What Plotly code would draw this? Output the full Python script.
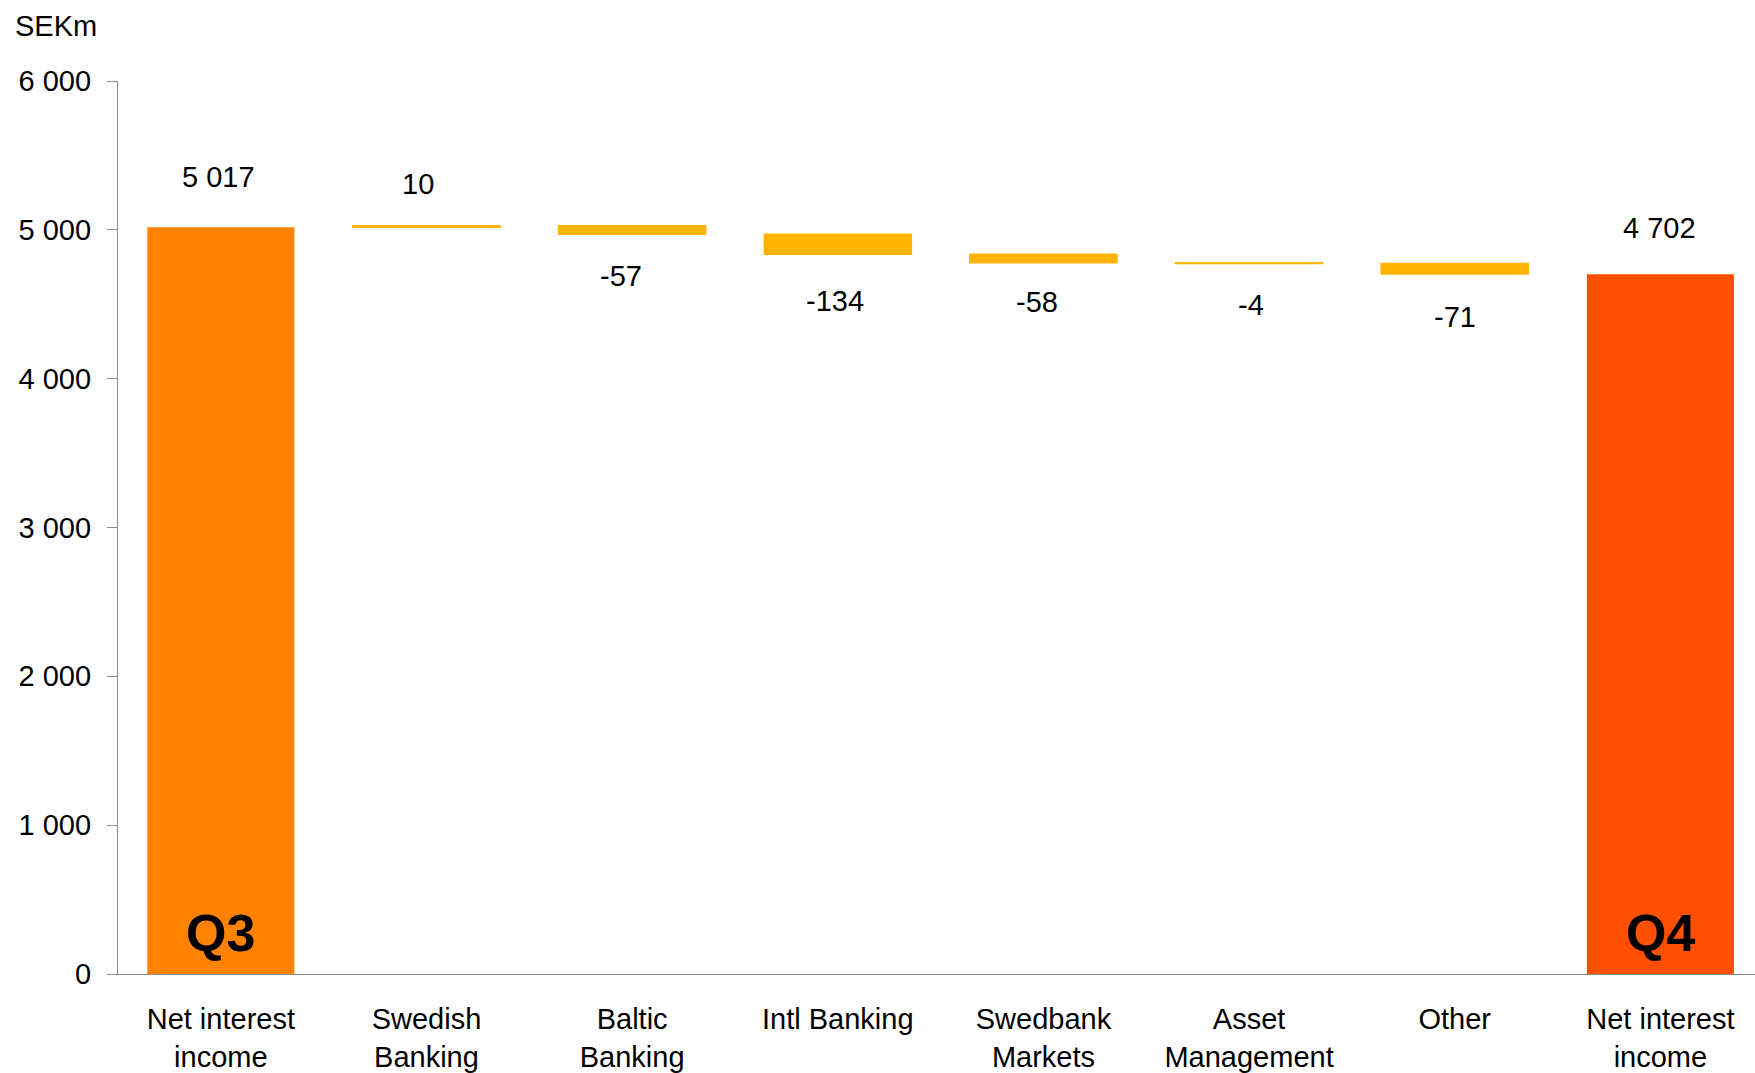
import plotly.graph_objects as go

# ---- data ----
categories = ["Net interest<br>income", "Swedish<br>Banking", "Baltic<br>Banking", "Intl Banking",
              "Swedbank<br>Markets", "Asset<br>Management", "Other", "Net interest<br>income"]
values = [5017, 10, -57, -134, -58, -4, -71, 4702]
kinds = ["total", "delta", "delta", "delta", "delta", "delta", "delta", "total"]
quarter_tags = ["Q3", None, None, None, None, None, None, "Q4"]
y_ticks = [0, 1000, 2000, 3000, 4000, 5000, 6000]
unit_label = "SEKm"

# ---- styles ----
C_Q3 = "#FF8300"
C_Q4 = "#FF4F00"
C_DELTA = "#FFB400"
FONT = "Liberation Sans, Arial, sans-serif"
FS = 29
label_gap = [50, 42, 42, 47, 39, 42, 43, 46]    # px between bar end and value label centre
label_dx = [-2, -8, -11, -3, -6, 2, 0, -1]      # px horizontal nudge of value labels

x = list(range(len(categories)))
bases, colors, ends = [], [], []
running = 0
for i, (v, k) in enumerate(zip(values, kinds)):
    if k == "total":
        bases.append(0)
        running = v
        colors.append(C_Q3 if i == 0 else C_Q4)
    else:
        bases.append(running)
        running += v
        colors.append(C_DELTA)
    ends.append(bases[-1] + v)

line_colors = [c if k == "delta" else "rgba(0,0,0,0)" for c, k in zip(colors, kinds)]
line_widths = [1.5 if k == "delta" else 0 for k in kinds]

fig = go.Figure()
fig.add_trace(go.Bar(
    x=x, y=values, base=bases, width=0.715,
    marker=dict(color=colors, line=dict(color=line_colors, width=line_widths)),
    hoverinfo="skip", showlegend=False,
))

def fmt(v):
    return f"{v:,}".replace(",", " ")

annotations = []
for i, v in enumerate(values):
    annotations.append(dict(
        x=x[i], y=ends[i], xref="x", yref="y", text=fmt(v), showarrow=False,
        yanchor="middle", xanchor="center",
        yshift=label_gap[i] if v >= 0 else -label_gap[i], xshift=label_dx[i],
        font=dict(family=FONT, size=FS, color="black"),
    ))
    if quarter_tags[i]:
        annotations.append(dict(
            x=x[i], y=0, xref="x", yref="y", text=f"<b>{quarter_tags[i]}</b>", showarrow=False,
            yanchor="middle", xanchor="center", yshift=41,
            font=dict(family=FONT, size=52, color="black"),
        ))

annotations.append(dict(
    x=-0.064, y=1.062, xref="paper", yref="paper", text=unit_label, showarrow=False,
    xanchor="left", yanchor="middle", font=dict(family=FONT, size=FS, color="black"),
))

fig.update_layout(
    width=1755, height=1073,
    margin=dict(l=117.5, r=0, t=80.6, b=99.2, pad=0),
    paper_bgcolor="white", plot_bgcolor="white",
    separators=". ",
    font=dict(family=FONT, size=FS, color="black"),
    annotations=annotations,
)
fig.update_xaxes(
    tickmode="array", tickvals=x, ticktext=categories,
    range=[-0.5, len(categories) - 0.54],
    showline=True, linecolor="#8c8c8c", linewidth=1.3,
    showgrid=False, zeroline=False, ticks="",
    tickfont=dict(family=FONT, size=FS, color="black"),
    ticklabelstandoff=19, automargin=False,
)
fig.update_yaxes(
    range=[0, 6000], tickmode="array", tickvals=y_ticks, tickformat=",d",
    showline=True, linecolor="#8c8c8c", linewidth=1.3,
    ticks="outside", ticklen=10, tickcolor="#8c8c8c", tickwidth=1.3,
    showgrid=False, zeroline=False,
    tickfont=dict(family=FONT, size=FS, color="black"),
    ticklabelstandoff=10, automargin=False,
)

fig.write_html("out.html", config={"displayModeBar": False},
               post_script="document.body.style.margin='0';document.body.style.overflow='hidden';")
